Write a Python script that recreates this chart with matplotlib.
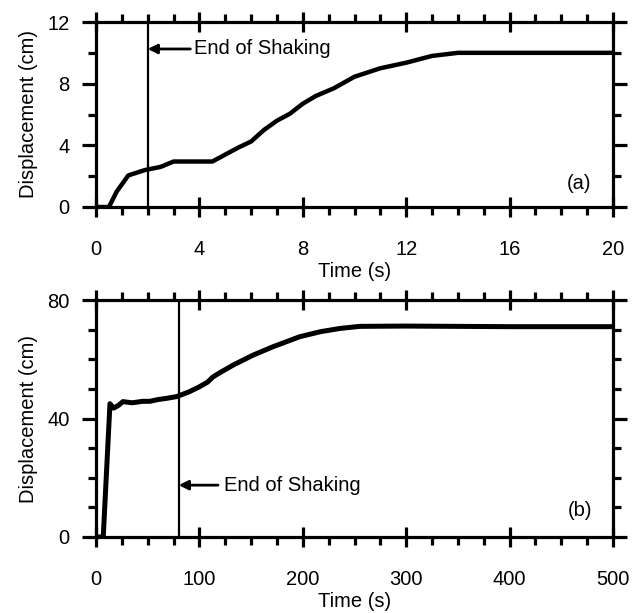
import matplotlib.pyplot as plt
from matplotlib.ticker import MultipleLocator

plt.rcParams['font.family'] = ['Liberation Sans', 'DejaVu Sans']

# ---- panel (a) data ----
time_a = [0, 0.5, 0.8, 1.25, 1.9, 2.5, 3.0, 4.5, 5.5, 6.0, 6.5, 7.0,
          7.5, 8.0, 8.5, 9.2, 10.0, 11.0, 12.0, 13.0, 14.0, 20.0]
disp_a = [0, 0, 1.0, 2.05, 2.4, 2.6, 2.95, 2.95, 3.85, 4.25, 5.0, 5.6,
          6.05, 6.7, 7.2, 7.7, 8.45, 9.0, 9.36, 9.8, 10.0, 10.0]

# ---- panel (b) data ----
time_b = [0, 7, 13.5, 17, 22, 26, 35, 45, 52, 60, 70, 78, 90, 100,
          108, 113, 120, 133, 152, 171, 197, 217, 236, 255, 300, 400, 500]
disp_b = [0, 0, 45.0, 43.5, 44.5, 45.7, 45.3, 45.8, 45.8, 46.4, 46.9,
          47.4, 49.0, 50.7, 52.3, 54.0, 55.5, 58.1, 61.4, 64.2, 67.6,
          69.3, 70.4, 71.1, 71.2, 71.0, 71.0]

shake_end_a = 2
shake_end_b = 80

fig = plt.figure(figsize=(6.43, 6.13), dpi=100)
ax1 = fig.add_axes([96/643, 1-207/613, 517/643, 185/613])
ax2 = fig.add_axes([96/643, 1-537/613, 517/643, 237/613])


def style(ax, xmaj, xmin, ymaj, ymin, xlim, ylim):
    ax.set_xlim(xlim)
    ax.set_ylim(ylim)
    ax.xaxis.set_major_locator(MultipleLocator(xmaj))
    ax.xaxis.set_minor_locator(MultipleLocator(xmin))
    ax.yaxis.set_major_locator(MultipleLocator(ymaj))
    ax.yaxis.set_minor_locator(MultipleLocator(ymin))
    for s in ax.spines.values():
        s.set_linewidth(2.3)
    ax.tick_params(axis='both', which='both', top=True, right=True,
                   direction='out', width=2.3, labelsize=14.5)
    ax.tick_params(axis='x', which='major', direction='inout', length=14, pad=17)
    ax.tick_params(axis='x', which='minor', length=6)
    ax.tick_params(axis='y', which='major', length=10, pad=9)
    ax.tick_params(axis='y', which='minor', length=6)
    ax.set_ylabel('Displacement (cm)', fontsize=14.5)
    ax.yaxis.set_label_coords(-0.112, 0.5)
    ax.set_xlabel('Time (s)', fontsize=14.5)


style(ax1, 4, 1, 4, 2, (0, 20), (0, 12))
style(ax2, 100, 25, 40, 10, (0, 500), (0, 80))
ax1.xaxis.set_label_coords(0.5, -0.297)
ax2.xaxis.set_label_coords(0.5, -0.232)

ax1.plot(time_a, disp_a, color='black', lw=3.2, solid_joinstyle='round')
ax2.plot(time_b, disp_b, color='black', lw=3.6, solid_joinstyle='round')

ax1.axvline(shake_end_a, color='black', lw=1.6)
ax2.axvline(shake_end_b, color='black', lw=1.6)

arrow = dict(arrowstyle='-|>', color='black', lw=2, mutation_scale=14,
             shrinkA=0, shrinkB=0)
ax1.annotate('', xy=(shake_end_a, 10.25), xytext=(3.65, 10.25), arrowprops=arrow)
ax1.text(3.78, 10.25, 'End of Shaking', fontsize=14.5, ha='left', va='center')
ax2.annotate('', xy=(shake_end_b, 17.5), xytext=(118, 17.5), arrowprops=arrow)
ax2.text(124, 17.5, 'End of Shaking', fontsize=14.5, ha='left', va='center')

ax1.text(18.7, 1.55, '(a)', fontsize=14.5, ha='center', va='center')
ax2.text(468, 9.1, '(b)', fontsize=14.5, ha='center', va='center')

fig.savefig('out.png', dpi=100)
